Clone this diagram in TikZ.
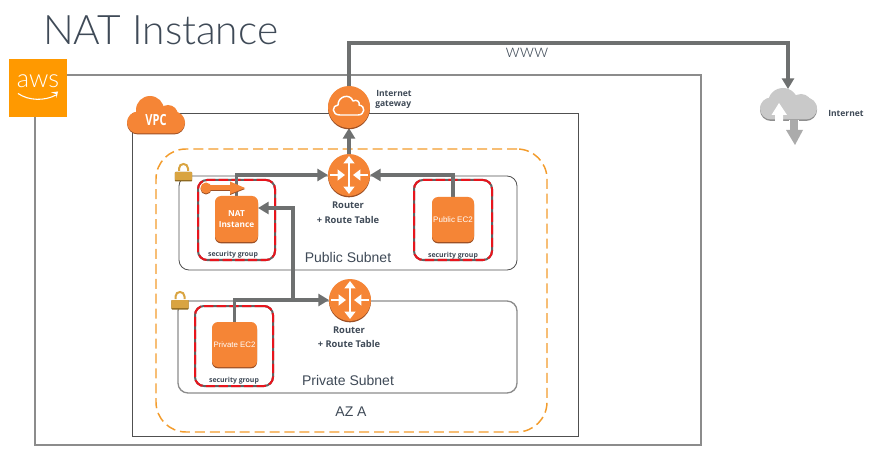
\documentclass[tikz,border=0pt]{standalone}
\usepackage{fontspec}
\usepackage{graphicx}
\setmainfont{Open Sans}
\newfontfamily\titlefont{Lato Light}
\newfontfamily\plainfont{Liberation Sans}
\usetikzlibrary{arrows.meta}
\pgfdeclarelayer{boxes}
\pgfdeclarelayer{lines}
\pgfsetlayers{boxes,lines,main}
\definecolor{awsorange}{HTML}{FF9900}
\definecolor{iconorange}{HTML}{F58536}
\definecolor{iconshade}{HTML}{9D5025}
\definecolor{linegray}{HTML}{6E7070}
\definecolor{boxgray}{HTML}{8C8C8C}
\definecolor{boxdark}{HTML}{505050}
\definecolor{dashorange}{HTML}{F39C2C}
\definecolor{sgred}{HTML}{E8141C}
\definecolor{textdark}{HTML}{3F4A57}
\definecolor{lockgold}{HTML}{D9A441}
\definecolor{lockshade}{HTML}{8F6A20}
\definecolor{cloudgray}{HTML}{C9C9C9}
\definecolor{cloudshade}{HTML}{8F8F8F}
\def\u{0.75pt}
\tikzset{
  x=0.75pt,y=-0.75pt,
  region/.style={rectangle,rounded corners=#1,anchor=north west,inner sep=0pt,outer sep=0pt},
  outerbox/.style={region=0pt,draw=boxgray,line width=1pt},
  vpcbox/.style={region=0pt,draw=boxdark,line width=.65pt},
  azbox/.style={region=30*\u,draw=dashorange,line width=1.1pt,dash pattern=on 7.5pt off 3.7pt},
  pubbox/.style={region=10*\u,draw=boxdark,line width=.6pt},
  privbox/.style={region=10*\u,draw=boxgray,line width=1pt},
  sgbox/.style={region=9*\u,draw=boxgray!70!black,line width=1.5pt,
     postaction={draw=sgred,line width=1.5pt,dash pattern=on 7pt off 2.5pt}},
  ec2box/.style={rectangle,rounded corners=6*\u,fill=iconorange,inner sep=0pt,outer sep=0pt,anchor=north west,
     preaction={fill=iconshade,transform canvas={yshift=-1pt}},text=white,align=center},
  roundicon/.style={circle,fill=iconorange,minimum size=42*\u,inner sep=0pt,outer sep=0pt,
     preaction={fill=iconshade,transform canvas={yshift=-1pt}}},
  flow/.style={draw=linegray,line width=2.3pt,-{Triangle[length=8pt,width=9pt]}},
  tinybold/.style={font=\fontsize{5.2}{7}\selectfont\bfseries,text=textdark,inner sep=0pt},
  labelbold/.style={font=\fontsize{6.4}{8}\selectfont\bfseries,text=textdark,inner sep=0pt},
  routerlabel/.style={font=\fontsize{7}{8}\selectfont\bfseries,text=textdark,inner sep=0pt},
  sublabel/.style={font=\plainfont\fontsize{10.5}{12}\selectfont,text=textdark,inner sep=0pt},
  whiteline/.style={white,line width=2pt,-{Triangle[length=5.5pt,width=8pt]}},
  routerglyph/.pic={
    \draw[white,line width=2pt,{Triangle[length=5.5pt,width=8pt]}-{Triangle[length=5.5pt,width=8pt]}] (0,-19) -- (0,19);
    \draw[whiteline] (-19,0) -- (-4,0);
    \draw[whiteline] (19,0) -- (4,0);
  },
  padlock/.pic={
    \draw[lockgold,line width=1.5pt] (-4.5,-3) -- (-4.5,-5.5) .. controls (-4.5,-11.5) and (4.5,-11.5) .. (4.5,-5.5) -- (4.5,-3);
    \fill[lockshade,rounded corners=.6pt] (-8.7,-2) rectangle (8.7,7.5);
    \fill[lockgold,rounded corners=.6pt] (-8.7,-2) rectangle (8.7,6);
  }
}
\begin{document}
\begin{tikzpicture}
\useasboundingbox (0,0) rectangle (875,449);

% regions
\begin{pgfonlayer}{boxes}
\fill[white] (0,0) rectangle (875,449);
\node[outerbox,minimum width=666*\u,minimum height=370*\u] (outer) at (35,75) {};
\node[vpcbox,minimum width=446*\u,minimum height=323*\u] (vpc) at (132,113) {};
\node[azbox,minimum width=391*\u,minimum height=283*\u] (az) at (156,149) {};
\node[pubbox,minimum width=338*\u,minimum height=94*\u] (pubnet) at (179,176) {};
\node[privbox,minimum width=339*\u,minimum height=92*\u] (privnet) at (178,301) {};
\node[sgbox,minimum width=77*\u,minimum height=80*\u] (sgnat) at (198,180) {};
\node[sgbox,minimum width=78*\u,minimum height=80*\u] (sgpub) at (414,180) {};
\node[sgbox,minimum width=78*\u,minimum height=80*\u] (sgpriv) at (195,306) {};
\end{pgfonlayer}

% title and aws logo
\node[font=\titlefont\fontsize{30.5}{34}\selectfont,text=textdark,inner sep=0pt,anchor=base west] (title) at (43,45) {NAT Instance};
\node[rectangle,fill=awsorange,minimum size=58*\u,inner sep=0pt,anchor=north west] (aws) at (9,59) {};
\node[font=\titlefont\fontsize{19}{19}\selectfont,text=white,inner sep=0pt] (awstext) at (38,81) {aws};
\draw[white,line width=.8pt] (18,93.5) .. controls (29,101) and (45,101) .. (56,95);
\fill[white] (51,92.5) -- (58,91.5) -- (56.5,98) -- (56,94) -- cycle;

% VPC cloud
\fill[iconshade,rounded corners=11*\u] (127,112.5) rectangle (185,134.5);
\fill[iconorange,rounded corners=11*\u] (127,111.5) rectangle (185,133.5);
\fill[iconorange] (150,110) circle[radius=14];
\fill[iconorange] (168,115) circle[radius=10];
\node[font=\fontsize{11.5}{12}\selectfont\bfseries,text=white,inner sep=0pt] (vpclabel) at (156,120) {\scalebox{.72}[1]{VPC}};

% icons
\node[roundicon] (igw) at (349,107) {};
\draw[white,line width=1.1pt,line join=round]
  (340,115) .. controls (331,115) and (332,105) .. (338,105)
  .. controls (338,96) and (350,93) .. (353,101)
  .. controls (357,99) and (360,102) .. (359,105)
  .. controls (366,106) and (365,115) .. (358,115) -- cycle;
\node[roundicon] (rone) at (349,175) {};
\pic at (349,175) {routerglyph};
\node[roundicon] (rtwo) at (350,300) {};
\pic at (350,300) {routerglyph};

\node[ec2box,minimum width=43*\u,minimum height=46*\u,font=\fontsize{6.2}{8.5}\selectfont\bfseries] (nat) at (215,196) {NAT\\Instance};
\node[ec2box,minimum width=42*\u,minimum height=45*\u,font=\plainfont\fontsize{6}{8}\selectfont] (pub) at (432,197) {Public EC2};
\node[ec2box,minimum width=45*\u,minimum height=45*\u,font=\plainfont\fontsize{5.9}{8}\selectfont] (priv) at (212,322) {Private EC2};

% key
\fill[iconshade] (206,189) circle[radius=5.5];
\fill[iconshade] (206,186.5) rectangle (231,191);
\fill[iconshade] (230,182.5) -- (245,189) -- (230,195) -- cycle;
\fill[iconorange] (206,188) circle[radius=5.5];
\fill[iconorange] (206,185.5) rectangle (231,190);
\fill[iconorange] (230,181.5) -- (245,188) -- (230,194) -- cycle;

% locks
\pic at (183.5,174) {padlock};
\pic at (180,302) {padlock};

% internet cloud
\coordinate (netcloud) at (788,89);
\fill[cloudshade,rounded corners=11*\u] (760,98.5) rectangle (817,121);
\fill[cloudgray,rounded corners=11*\u] (760,97.5) rectangle (817,119.5);
\fill[cloudgray] (783,103) circle[radius=15];
\fill[cloudgray] (801,105) circle[radius=11];
\fill[white] (779,103) -- (787,115) -- (783,115) -- (783,122) -- (775,122) -- (775,115) -- (771.5,115) -- cycle;
\fill[white] (789,120) rectangle (799,122);
\fill[cloudgray!85!black] (790,120) rectangle (798,130);
\fill[cloudgray!85!black] (786,130) -- (803,130) -- (795,145) -- cycle;

% connectors
\begin{pgfonlayer}{lines}
\coordinate (wwwturn) at (349,43);
\draw[flow] (igw.north) -- (wwwturn) -| (netcloud);
\draw[flow] (rone.north) -- (igw.south);
\draw[flow] (pub.north) |- (rone.east);
\draw[flow] (nat.north) |- (rone.west);
\draw[flow] (priv.north) |- (rtwo.west);
\coordinate (branch) at (293,300);
\coordinate (natin) at (258,208);
\draw[flow] (branch) |- (natin);
\end{pgfonlayer}

% labels
\node[font=\titlefont\fontsize{14}{14}\selectfont,text=textdark,inner sep=0pt,anchor=base] (www) at (527,58) {www};
\node[labelbold,anchor=west] (igwlabela) at (376,93) {Internet};
\node[labelbold,anchor=west] (igwlabelb) at (375,105) {gateway};
\node[labelbold,anchor=west] (netlabel) at (828,113) {Internet};
\node[routerlabel] (rlabela) at (348,205) {Router};
\node[routerlabel] (rlabelb) at (348,220) {+ Route Table};
\node[routerlabel] (rlabelc) at (349,330) {Router};
\node[routerlabel] (rlabeld) at (349,344) {+ Route Table};
\node[sublabel] (publabel) at (348,257) {Public Subnet};
\node[sublabel] (privlabel) at (348,380) {Private Subnet};
\node[sublabel] (azlabel) at (351,412) {AZ A};
\node[tinybold] (sgl) at (233,255) {security group};
\node[tinybold] (sgm) at (453,255.5) {security group};
\node[tinybold] (sgn) at (234,381) {security group};
\end{tikzpicture}
\end{document}
